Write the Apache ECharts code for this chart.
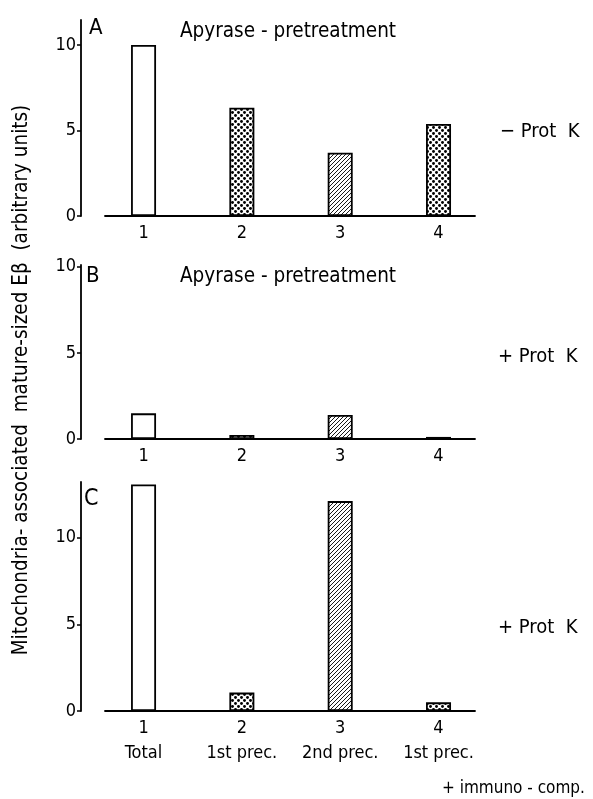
<!DOCTYPE html>
<html>
<head>
<meta charset="utf-8">
<script src="https://cdn.jsdelivr.net/npm/echarts@6/dist/echarts.min.js"></script>
<style>
html,body{margin:0;padding:0;background:#fff;}
#chart{width:593px;height:799px;}
</style>
</head>
<body>
<div id="chart"></div>
<script>
// ---- data ----
const categories = ['1', '2', '3', '4'];
const subLabelsC = ['Total', '1st prec.', '2nd prec.', '1st prec.'];
const valuesA = [10.0, 6.33, 3.70, 5.38];
const valuesB = [1.49, 0.23, 1.40, 0.12];
const valuesC = [13.06, 1.06, 12.1, 0.5];
const yTicks = [0, 5, 10];
const fills = ['plain', 'dots', 'hatch', 'dots'];

const FONT = '"DejaVu Sans Condensed", "DejaVu Sans", sans-serif';

function dotsPattern() {
  const c = document.createElement('canvas');
  c.width = 6; c.height = 6;
  const g = c.getContext('2d');
  g.fillStyle = '#fff'; g.fillRect(0, 0, 6, 6);
  g.fillStyle = '#000';
  [[1.5, 1.5], [4.5, 4.5], [-1.5, 4.5], [7.5, 1.5], [4.5, -1.5], [1.5, 7.5]].forEach(([x, y]) => {
    g.beginPath(); g.arc(x, y, 1.45, 0, Math.PI * 2); g.fill();
  });
  return c;
}
function hatchPattern() {
  const c = document.createElement('canvas');
  c.width = 4; c.height = 4;
  const g = c.getContext('2d');
  g.fillStyle = '#fff'; g.fillRect(0, 0, 4, 4);
  g.strokeStyle = '#000'; g.lineWidth = 0.9;
  g.beginPath();
  g.moveTo(0, 4); g.lineTo(4, 0);
  g.moveTo(-1, 1); g.lineTo(1, -1);
  g.moveTo(3, 5); g.lineTo(5, 3);
  g.stroke();
  return c;
}
const patterns = {
  plain: '#fff',
  dots: { image: dotsPattern(), repeat: 'repeat' },
  hatch: { image: hatchPattern(), repeat: 'repeat' }
};

const panels = [
  { vals: valuesA, top: 20, bottom: 216, max: 11.46, sub: false },
  { vals: valuesB, top: 265, bottom: 439, max: 10.1, sub: false },
  { vals: valuesC, top: 482, bottom: 711, max: 13.2, sub: true }
];

const XMIN = 0.608, XMAX = 4.371;
const grids = [], xAxes = [], yAxes = [], series = [];
panels.forEach((p, i) => {
  grids.push({ left: 105, width: 370, top: p.top, height: p.bottom - p.top, containLabel: false });
  xAxes.push({
    type: 'value', gridIndex: i, min: XMIN, max: XMAX,
    axisLine: { show: true, onZero: false, lineStyle: { color: '#000', width: 1.8 } },
    axisTick: { show: false },
    splitLine: { show: false },
    axisLabel: {
      customValues: [1, 2, 3, 4],
      margin: 5,
      color: '#000', fontFamily: FONT, fontSize: 18,
      lineHeight: 25,
      formatter: v => {
        const k = Math.round(v) - 1;
        return p.sub ? categories[k] + '\n' + subLabelsC[k] : categories[k];
      }
    }
  });
  yAxes.push({
    type: 'value', gridIndex: i, min: 0, max: p.max, offset: 24,
    axisLine: { show: true, lineStyle: { color: '#000', width: 1.8 } },
    axisTick: { show: true, customValues: yTicks, length: 4, lineStyle: { color: '#000', width: 1.5 } },
    splitLine: { show: false },
    axisLabel: { customValues: yTicks, margin: 5, color: '#000', fontFamily: FONT, fontSize: 18 }
  });
  series.push({
    type: 'bar', xAxisIndex: i, yAxisIndex: i, barWidth: 25,
    data: p.vals.map((v, k) => ({
      value: [k + 1, v],
      itemStyle: { color: patterns[fills[k]], borderColor: '#000', borderWidth: 1.8 }
    })),
    silent: true, animation: false
  });
});

const txt = (x, y, s, size, align, extra) => Object.assign({
  type: 'text', x, y,
  style: { text: s, fill: '#000', font: size + 'px ' + FONT, textAlign: align || 'left', textVerticalAlign: 'middle' }
}, extra || {});

const graphic = [
  txt(89, 28, 'A', 22),
  txt(180, 32, 'Apyrase - pretreatment', 20.5),
  txt(500, 132, '− Prot  K', 20),
  txt(86, 276, 'B', 22),
  txt(180, 277, 'Apyrase - pretreatment', 20.5),
  txt(498, 357, '+ Prot  K', 20),
  txt(84, 499, 'C', 23),
  txt(498, 628, '+ Prot  K', 20),
  txt(442, 789, '+ immuno - comp.', 17),
  txt(22, 380, 'Mitochondria- associated  mature-sized Eβ  (arbitrary units)', 20.5, 'center', { rotation: Math.PI / 2 })
];

const chart = echarts.init(document.getElementById('chart'), null, { renderer: 'canvas' });
chart.setOption({
  backgroundColor: '#fff',
  animation: false,
  grid: grids, xAxis: xAxes, yAxis: yAxes, series: series,
  graphic: graphic
});
</script>
</body>
</html>
